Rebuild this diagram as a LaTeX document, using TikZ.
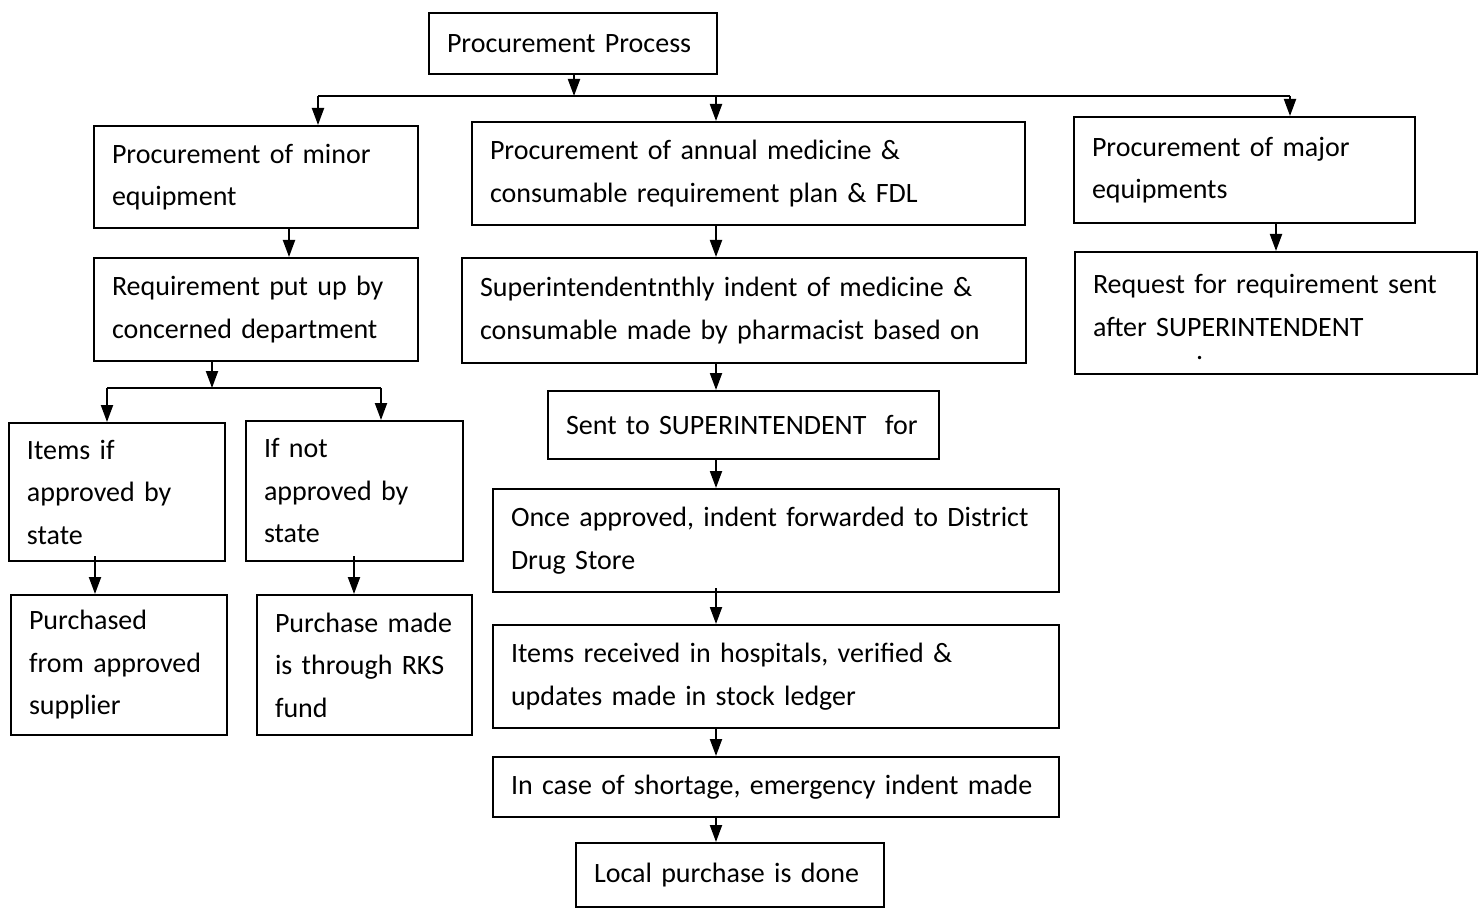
\documentclass[tikz,border=0pt]{standalone}
\usepackage{fontspec}
\setmainfont{Carlito}
\usepackage{tikz}
\usetikzlibrary{arrows.meta}

\newcommand{\boxfont}{\fontsize{28}{42.5}\selectfont}

\tikzset{
  box/.style={draw, line width=2pt, anchor=north west, align=left,
    inner xsep=18pt, inner ysep=0pt, font=\boxfont},
  arr/.style={line width=2pt, -{Triangle[length=17pt,width=12pt]}}
}

\begin{document}
\begin{tikzpicture}[x=1pt,y=-1pt]
    \useasboundingbox (0,0) rectangle (1481,909);
    \clip (0,0) rectangle (1481,909);

    % boxes, placed by their top left corner
    \node[box, text width=252pt, minimum height=61pt] (root) at (428,12) {Procurement Process};

    \node[box, text width=288pt, minimum height=102pt] (minor) at (93,125) {Procurement of minor\\equipment};
    \node[box, text width=517pt, minimum height=103pt] (annual) at (471,121) {Procurement of annual medicine \&\\consumable requirement plan \& FDL};
    \node[box, text width=305pt, minimum height=106pt] (major) at (1073,116) {Procurement of major\\equipments};

    \node[box, text width=288pt, minimum height=103pt] (req) at (93,257) {Requirement put up by\\concerned department};
    \node[box, text width=528pt, minimum height=105pt] (indent) at (461,257) {Superintendentnthly indent of medicine \&\\consumable made by pharmacist based on};
    \node[box, text width=366pt, minimum height=122pt, text depth=57.5pt] (request) at (1074,251) {Request for requirement sent\\after SUPERINTENDENT\\[-19.5pt]\hspace*{103pt}.};

    \node[box, text width=355pt, minimum height=68pt] (sent) at (547,390) {Sent to SUPERINTENDENT~ for};

    \node[box, text width=180pt, minimum height=138pt] (itemsif) at (8,422) {Items if\\approved by\\state};
    \node[box, text width=181pt, minimum height=140pt] (ifnot) at (245,420) {If not\\approved by\\state};
    \node[box, text width=180pt, minimum height=140pt] (supplier) at (10,594) {Purchased\\from approved\\supplier};
    \node[box, text width=179pt, minimum height=140pt] (rks) at (256,594) {Purchase made\\is through RKS\\fund};

    \node[box, text width=530pt, minimum height=103pt] (once) at (492,488) {Once approved, indent forwarded to District\\Drug Store};
    \node[box, text width=530pt, minimum height=103pt] (received) at (492,624) {Items received in hospitals, verified \&\\updates made in stock ledger};
    \node[box, text width=530pt, minimum height=60pt] (shortage) at (492,756) {In case of shortage, emergency indent made};
    \node[box, text width=272pt, minimum height=64pt] (local) at (575,842) {Local purchase is done};

    % columns and split points
    \coordinate (hub) at (574,96);
    \coordinate (hubL) at (318,96);
    \coordinate (hubR) at (1290,96);
    \coordinate (col) at (716,0);
    \coordinate (colL) at (289,0);
    \coordinate (colR) at (1276,0);
    \coordinate (fork) at (212,388);
    \coordinate (forkL) at (107,388);
    \coordinate (forkR) at (381,388);
    \coordinate (colA) at (95,0);
    \coordinate (colB) at (354,0);

    % top split
    \draw[arr] (root.south -| hub) -- (hub);
    \draw[line width=2pt] (hubL) -- (hubR);
    \draw[arr] (hubL) -- (hubL |- minor.north);
    \draw[arr] (hub -| col) -- (annual.north -| col);
    \draw[arr] (hubR) -- (hubR |- major.north);

    % left branch
    \draw[arr] (minor.south -| colL) -- (req.north -| colL);
    \draw[arr] (req.south -| fork) -- (fork);
    \draw[line width=2pt] (forkL) -- (forkR);
    \draw[arr] (forkL) -- (forkL |- itemsif.north);
    \draw[arr] (forkR) -- (forkR |- ifnot.north);
    \draw[arr] ([yshift=6pt]itemsif.south -| colA) -- (supplier.north -| colA);
    \draw[arr] ([yshift=6pt]ifnot.south -| colB) -- (rks.north -| colB);

    % middle column
    \draw[arr] (annual.south -| col) -- (indent.north -| col);
    \draw[arr] (indent.south -| col) -- (sent.north -| col);
    \draw[arr] (sent.south -| col) -- (once.north -| col);
    \draw[arr] ([yshift=5pt]once.south -| col) -- (received.north -| col);
    \draw[arr] (received.south -| col) -- (shortage.north -| col);
    \draw[arr] (shortage.south -| col) -- (local.north -| col);

    % right branch
    \draw[arr] (major.south -| colR) -- (request.north -| colR);
\end{tikzpicture}
\end{document}
